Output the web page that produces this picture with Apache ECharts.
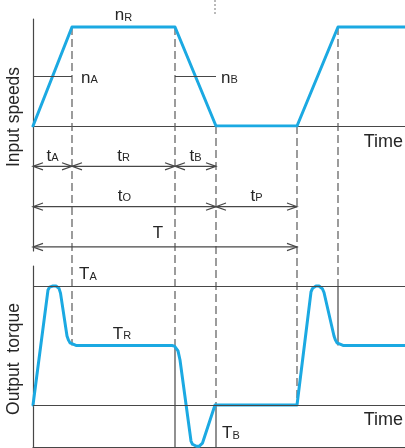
<!DOCTYPE html>
<html>
<head>
<meta charset="utf-8">
<script src="https://cdn.jsdelivr.net/npm/echarts/dist/echarts.min.js"></script>
<style>
html,body{margin:0;padding:0;background:#fff;}
#c{width:405px;height:448px;}
</style>
</head>
<body>
<div id="c"></div>
<script>
// ---------- data ----------
// phase boundaries (time units)
const phaseTimes = [0, 3.9, 14.2, 18.3, 26.4, 30.5, 37.2];
// input speed at those times (nR = 1)
const speedValues = [0, 1, 1, 0, 0, 1, 1];
const nLevel = 0.5;            // nA / nB marker level
const nMarkFrom = [0, 14.2];
const nMarkTo = [3.9, 18.3];

// output torque curve (TA = 1, TR = 0.5)
const torqueTimes = [0, 1.5, 1.65, 1.8, 2.0, 2.3, 2.45, 2.6, 2.75, 3.4, 3.55, 3.7, 3.9, 4.3, 13.9, 14.15, 14.35, 14.5, 14.7, 15.8, 15.95, 16.15, 16.35, 16.6, 16.8, 16.95, 18.2, 26.4, 27.8, 27.95, 28.1, 28.3, 28.6, 28.8, 28.95, 29.1, 30.1, 30.25, 30.4, 30.6, 31.0, 37.2];
const torqueValues = [0, 0.966, 0.99, 0.998, 1, 1, 0.995, 0.98, 0.94, 0.58, 0.545, 0.522, 0.51, 0.5, 0.5, 0.495, 0.48, 0.455, 0.378, -0.303, -0.33, -0.343, -0.347, -0.347, -0.338, -0.32, 0, 0, 0.95, 0.98, 0.995, 1, 1, 0.992, 0.975, 0.945, 0.58, 0.545, 0.522, 0.51, 0.5, 0.5];
const levelTA = 1;
const levelTR = 0.5;
const levelTB = -0.353;

// dimension arrows
const dimMain = ['t', 't', 't', 't', 't', 'T'];
const dimSub = ['A', 'R', 'B', 'O', 'P', ''];
const dimStart = [0, 3.9, 14.2, 0, 18.3, 0];
const dimEnd = [3.9, 14.2, 18.3, 18.3, 26.4, 26.4];
const dimRow = [1, 1, 1, 2, 2, 3];

// vertical phase lines
const boundaryTimes = [3.9, 14.2, 18.3, 26.4, 30.5];
const boundarySpeedFrom = [1, 1, 0, 0, 1];
const boundaryTorqueDashTo = [0.5, 0.5, 0, 0, 1];
const boundaryTorqueSolidTo = [null, -0.353, -0.353, null, 0.5];

// text notes
const speedNoteTimes = [9.05, 3.9, 18.3, 37.2];
const speedNoteValues = [1, 0.5, 0.5, 0];
const speedNoteMain = ['n', 'n', 'n', 'Time'];
const speedNoteSub = ['R', 'A', 'B', ''];
const torqueNoteTimes = [3.9, 8.9, 18.3, 37.2];
const torqueNoteValues = [1, 0.5, 0, 0];
const torqueNoteMain = ['T', 'T', 'T', 'Time'];
const torqueNoteSub = ['A', 'R', 'B', ''];

// ---------- style / layout ----------
const FONT = '"Liberation Sans", Arial, Helvetica, sans-serif';
const INK = '#262626';
const LINE = '#474747';
const DASH = '#5a5a5a';
const BLUE = '#1BA9E2';
const xMin = 0, xMax = 37.2;

const speedNoteLayout = [
  {align: 'center', va: 'bottom', dx: 0, dy: -3},
  {align: 'left', va: 'middle', dx: 9, dy: 0},
  {align: 'left', va: 'middle', dx: 5, dy: 0},
  {align: 'right', va: 'top', dx: -2, dy: 6, big: true}
];
const torqueNoteLayout = [
  {align: 'left', va: 'bottom', dx: 7, dy: -3},
  {align: 'center', va: 'bottom', dx: 0, dy: -3},
  {align: 'left', va: 'top', dx: 6, dy: 17},
  {align: 'right', va: 'top', dx: -2, dy: 5, big: true}
];

const RICH = {
  m: {fontSize: 17, fontFamily: FONT, fill: INK, lineHeight: 20, verticalAlign: 'bottom'},
  s: {fontSize: 11, fontFamily: FONT, fill: INK, lineHeight: 20, verticalAlign: 'bottom', padding: [0, 0, 1, 0]},
  b: {fontSize: 18, fontFamily: FONT, fill: INK, lineHeight: 20}
};
function richText(main, sub) {
  return sub ? '{m|' + main + '}{s|' + sub + '}' : '{m|' + main + '}';
}

function noteSeries(g, times, values, mains, subs, layout) {
  return {
    type: 'custom', xAxisIndex: g, yAxisIndex: g, silent: true, clip: false, z: 6,
    data: times.map((t, i) => [t, values[i]]),
    encode: {x: 0, y: 1},
    renderItem(params, api) {
      const i = params.dataIndex, L = layout[i];
      const p = api.coord([api.value(0), api.value(1)]);
      return {
        type: 'text', x: p[0] + L.dx, y: p[1] + L.dy,
        style: {
          text: L.big ? '{b|' + mains[i] + '}' : richText(mains[i], subs[i]),
          rich: RICH, align: L.align, verticalAlign: L.va
        }
      };
    }
  };
}

const axisLine = {show: true, onZero: false, lineStyle: {color: LINE, width: 1.2}};
const hiddenBits = {axisTick: {show: false}, axisLabel: {show: false}, splitLine: {show: false}};

const chart = echarts.init(document.getElementById('c'), null, {renderer: 'canvas'});

const option = {
  animation: false,
  backgroundColor: '#fff',
  grid: [
    {left: 33, right: 0, top: 19, height: 107},
    {left: 33, right: 0, top: 126, height: 125},
    {left: 33, right: 0, top: 266, height: 181}
  ],
  xAxis: [0, 1, 2].map(i => Object.assign({
    type: 'value', gridIndex: i, min: xMin, max: xMax,
    axisLine: Object.assign({}, axisLine, {show: i !== 1})
  }, hiddenBits)),
  yAxis: [
    Object.assign({type: 'value', gridIndex: 0, min: 0, max: 1.0808, axisLine}, hiddenBits),
    Object.assign({type: 'value', gridIndex: 1, min: 0, max: 3.1, inverse: true, axisLine}, hiddenBits),
    Object.assign({type: 'value', gridIndex: 2, min: levelTB, max: 1.168, axisLine}, hiddenBits)
  ],
  series: [
    {
      type: 'line', xAxisIndex: 0, yAxisIndex: 0, z: 4, silent: true,
      data: phaseTimes.map((t, i) => [t, speedValues[i]]),
      showSymbol: false, symbol: 'none',
      lineStyle: {color: BLUE, width: 3, join: 'round', cap: 'round'},
      markLine: {
        silent: true, symbol: ['none', 'none'], label: {show: false},
        lineStyle: {color: LINE, width: 1.2, type: 'solid'},
        data: nMarkFrom.map((t, i) => [{coord: [t, nLevel]}, {coord: [nMarkTo[i], nLevel]}])
      }
    },
    {
      type: 'custom', xAxisIndex: 1, yAxisIndex: 1, silent: true, clip: false, z: 3,
      data: dimStart.map((t, i) => [t, dimEnd[i], dimRow[i]]),
      encode: {x: [0, 1], y: 2},
      renderItem(params, api) {
        const i = params.dataIndex;
        const p0 = api.coord([api.value(0), api.value(2)]);
        const p1 = api.coord([api.value(1), api.value(2)]);
        const y = p0[1], L = 10, H = 3.6;
        const st = {stroke: LINE, lineWidth: 1.2, fill: null};
        const extraDy = dimSub[i] ? 0 : -3;
        const extraDx = dimSub[i] ? 0 : -7;
        return {
          type: 'group',
          children: [
            {type: 'line', shape: {x1: p0[0], y1: y, x2: p1[0], y2: y}, style: st},
            {type: 'polyline', shape: {points: [[p0[0] + L, y - H], [p0[0], y], [p0[0] + L, y + H]]}, style: st},
            {type: 'polyline', shape: {points: [[p1[0] - L, y - H], [p1[0], y], [p1[0] - L, y + H]]}, style: st},
            {type: 'text', x: (p0[0] + p1[0]) / 2 + extraDx, y: y - 2 + extraDy,
             style: {text: richText(dimMain[i], dimSub[i]), rich: RICH, align: 'center', verticalAlign: 'bottom'}}
          ]
        };
      }
    },
    {
      type: 'line', xAxisIndex: 2, yAxisIndex: 2, z: 4, silent: true,
      data: torqueTimes.map((t, i) => [t, torqueValues[i]]),
      showSymbol: false, symbol: 'none', smooth: false,
      lineStyle: {color: BLUE, width: 3, join: 'round', cap: 'round'},
      markLine: {
        silent: true, symbol: ['none', 'none'], label: {show: false},
        lineStyle: {color: LINE, width: 1.2, type: 'solid'},
        data: [{yAxis: levelTA}, {yAxis: 0}]
      }
    },
    noteSeries(0, speedNoteTimes, speedNoteValues, speedNoteMain, speedNoteSub, speedNoteLayout),
    noteSeries(2, torqueNoteTimes, torqueNoteValues, torqueNoteMain, torqueNoteSub, torqueNoteLayout)
  ]
};
chart.setOption(option);

// vertical phase lines spanning both panels, positioned via the axes' scales
const graphics = [];
boundaryTimes.forEach((t, i) => {
  const top = chart.convertToPixel({gridIndex: 0}, [t, boundarySpeedFrom[i]]);
  const dEnd = chart.convertToPixel({gridIndex: 2}, [t, boundaryTorqueDashTo[i]]);
  graphics.push({type: 'line', z: 1, silent: true,
    shape: {x1: top[0], y1: top[1], x2: dEnd[0], y2: dEnd[1]},
    style: {stroke: DASH, lineWidth: 1.2, lineDash: [8, 4]}});
  if (boundaryTorqueSolidTo[i] !== null) {
    const sEnd = chart.convertToPixel({gridIndex: 2}, [t, boundaryTorqueSolidTo[i]]);
    graphics.push({type: 'line', z: 1, silent: true,
      shape: {x1: dEnd[0], y1: dEnd[1], x2: sEnd[0], y2: sEnd[1]},
      style: {stroke: LINE, lineWidth: 1.2}});
  }
});
// small dotted tick at top
const dotX = chart.convertToPixel({gridIndex: 0}, [18.2, 0])[0];
graphics.push({type: 'line', silent: true, shape: {x1: dotX, y1: 0, x2: dotX, y2: 14},
  style: {stroke: '#777', lineWidth: 1, lineDash: [2, 2]}});
// panel titles
graphics.push({type: 'text', x: 14, y: 117, rotation: Math.PI / 2, silent: true,
  style: {text: 'Input speeds', font: '17.5px ' + FONT, fill: INK, align: 'center', verticalAlign: 'middle'}});
graphics.push({type: 'text', x: 14, y: 359, rotation: Math.PI / 2, silent: true,
  style: {text: 'Output  torque', font: '17.5px ' + FONT, fill: INK, align: 'center', verticalAlign: 'middle'}});

chart.setOption({graphic: {elements: graphics}});
</script>
</body>
</html>
